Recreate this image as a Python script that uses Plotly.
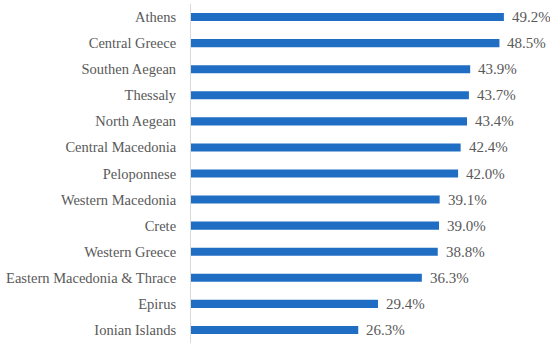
import plotly.graph_objects as go

categories = ["Athens", "Central Greece", "Southen Aegean", "Thessaly", "North Aegean",
              "Central Macedonia", "Peloponnese", "Western Macedonia", "Crete",
              "Western Greece", "Eastern Macedonia & Thrace", "Epirus", "Ionian Islands"]
values = [49.2, 48.5, 43.9, 43.7, 43.4, 42.4, 42.0, 39.1, 39.0, 38.8, 36.3, 29.4, 26.3]
value_labels = [f"{v:.1f}%" for v in values]

SERIF = "Liberation Serif"

fig = go.Figure(go.Bar(
    x=values, y=categories, orientation="h",
    marker=dict(color="#1F6EC4", line=dict(width=0)),
    width=0.31,
))

for cat, v, lab in zip(categories, values, value_labels):
    fig.add_annotation(x=v, y=cat, text=lab, showarrow=False,
                       xanchor="left", yanchor="middle", xshift=6,
                       font=dict(family=SERIF, size=15, color="#595959"))

fig.update_layout(
    width=550, height=347,
    margin=dict(l=191, r=0, t=4, b=4, pad=0, autoexpand=False),
    paper_bgcolor="white", plot_bgcolor="white",
    showlegend=False,
    font=dict(family=SERIF, size=14.5, color="#595959"),
    xaxis=dict(range=[0, 56.45], visible=False, showgrid=False, zeroline=False,
               automargin=False),
    yaxis=dict(categoryorder="array", categoryarray=categories[::-1],
               autorange=False, range=[-0.5, 12.5], automargin=False,
               showline=True, linecolor="#D9D9D9", linewidth=1,
               ticks="", ticklabelstandoff=11, showgrid=False,
               tickfont=dict(family=SERIF, size=14.5, color="#595959")),
)

fig.write_html("out.html", config={"displayModeBar": False},
               post_script="document.body.style.margin='0';")
